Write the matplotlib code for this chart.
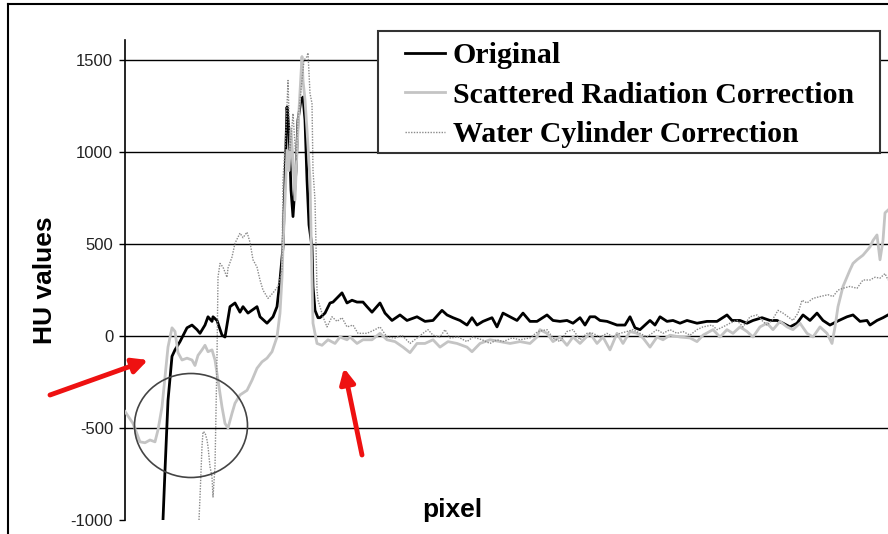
import matplotlib
matplotlib.use('Agg')
import matplotlib.pyplot as plt
from matplotlib.patches import Ellipse, Rectangle
from matplotlib.lines import Line2D

plt.rcParams['axes.unicode_minus'] = False

# profile along the line, x = pixel index, y = HU value
orig_x = [38, 40, 43, 47, 50, 55, 62, 67, 72, 75,
          80, 83, 87, 88, 92, 97, 100, 105, 110, 115,
          118, 123, 132, 135, 142, 148, 152, 155, 158, 160,
          162, 164, 166, 168, 171, 173, 176, 178, 180, 182,
          184, 187, 188, 190, 193, 195, 200, 205, 208, 217,
          222, 227, 232, 238, 242, 247, 255, 260, 267, 275,
          282, 292, 300, 308, 317, 322, 328, 335, 342, 347,
          352, 358, 367, 372, 378, 385, 392, 398, 405, 412,
          422, 428, 435, 442, 448, 455, 460, 465, 470, 475,
          482, 492, 500, 505, 510, 515, 522, 525, 530, 535,
          542, 548, 555, 562, 572, 582, 592, 602, 607, 615,
          622, 628, 637, 645, 652, 658, 665, 672, 678, 685,
          692, 698, 705, 712, 722, 728, 735, 742, 745, 752,
          758, 763]
orig_y = [-1000, -730, -350, -110, -75, -30, 45, 60, 35, 15,
          60, 105, 80, 105, 85, 5, -5, 160, 180, 130,
          160, 125, 160, 105, 70, 105, 160, 305, 485, 850,
          1245, 1120, 795, 650, 900, 1175, 1285, 1300, 1175, 850,
          605, 485, 270, 140, 100, 100, 125, 180, 185, 235,
          180, 195, 185, 185, 160, 130, 180, 125, 85, 115,
          85, 105, 80, 85, 140, 115, 100, 85, 60, 100,
          60, 80, 100, 50, 125, 105, 85, 125, 80, 80,
          115, 85, 80, 85, 70, 100, 60, 105, 105, 85,
          80, 60, 60, 105, 45, 35, 70, 85, 60, 105,
          80, 85, 70, 85, 70, 80, 80, 115, 85, 85,
          70, 85, 100, 85, 85, 70, 50, 70, 115, 85,
          125, 85, 60, 80, 105, 115, 80, 85, 60, 85,
          100, 115]

scat_x = [0, 8, 15, 20, 25, 30, 33, 37, 40, 43,
          47, 50, 53, 57, 62, 67, 70, 73, 77, 80,
          83, 87, 90, 93, 97, 100, 103, 107, 110, 115,
          122, 127, 132, 137, 142, 147, 152, 155, 157, 158,
          160, 162, 164, 166, 168, 170, 172, 174, 177, 178,
          180, 182, 185, 187, 188, 192, 197, 203, 210, 215,
          222, 225, 232, 238, 247, 255, 262, 270, 278, 285,
          292, 300, 308, 315, 323, 332, 342, 347, 355, 365,
          375, 385, 395, 405, 412, 415, 422, 428, 435, 442,
          448, 455, 465, 472, 478, 485, 492, 498, 505, 512,
          518, 525, 532, 538, 545, 555, 565, 572, 578, 588,
          595, 602, 608, 615, 622, 628, 635, 642, 648, 655,
          662, 668, 675, 682, 688, 695, 702, 707, 710, 713,
          718, 725, 728, 732, 738, 745, 748, 752, 755, 758,
          760, 763]
scat_y = [-410, -475, -575, -580, -565, -575, -510, -385, -220, -60,
          45, 25, -90, -130, -120, -130, -160, -105, -75, -50,
          -85, -75, -130, -240, -385, -475, -500, -420, -365, -320,
          -295, -240, -175, -140, -120, -85, -5, 125, 320, 485,
          740, 1010, 900, 1120, 955, 740, 1010, 1230, 1520, 1390,
          1285, 1120, 850, 305, 70, -40, -50, -20, -40, -5,
          -20, -5, -40, -20, -20, 15, -20, -30, -60, -90,
          -40, -40, -20, -60, -30, -40, -60, -85, -40, -20,
          -30, -40, -30, -40, -5, 35, 15, -30, -5, -50,
          -5, -40, 15, -40, -5, -75, 15, -40, 25, 15,
          -10, -60, -5, -20, 5, -5, -10, -30, 5, 35,
          -5, 35, 15, 50, 25, -5, 50, 70, 35, 80,
          50, 35, 70, 15, -5, 50, 15, -40, 50, 160,
          270, 360, 395, 415, 440, 485, 520, 550, 415, 520,
          670, 685]

water_x = [74, 75, 77, 78, 80, 82, 83, 85, 87, 88,
           90, 92, 93, 95, 98, 102, 103, 107, 110, 115,
           118, 122, 125, 128, 132, 135, 138, 143, 148, 153,
           157, 158, 161, 163, 165, 168, 171, 173, 176, 179,
           182, 183, 185, 187, 188, 190, 192, 193, 195, 198,
           202, 207, 212, 217, 222, 228, 233, 242, 250, 255,
           262, 270, 277, 285, 292, 298, 303, 308, 315, 320,
           325, 333, 342, 348, 357, 365, 372, 378, 387, 395,
           405, 413, 422, 428, 435, 442, 448, 455, 462, 468,
           475, 482, 488, 495, 502, 508, 515, 522, 532, 538,
           545, 552, 558, 565, 572, 578, 587, 592, 598, 605,
           612, 618, 625, 632, 637, 642, 647, 653, 658, 663,
           668, 673, 677, 682, 688, 695, 703, 708, 713, 718,
           725, 732, 738, 745, 750, 755, 760, 763]
water_y = [-1000, -875, -600, -520, -525, -565, -600, -710, -765, -875,
           -710, -110, 320, 395, 375, 320, 370, 430, 505, 560,
           535, 565, 510, 415, 375, 305, 250, 205, 235, 270,
           360, 850, 1120, 1390, 1010, 1210, 955, 1175, 1335, 1500,
           1520, 1540, 1320, 1265, 900, 740, 250, 195, 160, 105,
           50, 105, 80, 100, 50, 60, 15, 15, 35, 50,
           -5, -10, 5, -40, -10, 15, 35, 5, -5, 35,
           -10, -5, -30, -5, -20, -40, -20, -30, -10, -20,
           -10, 25, 35, -10, -30, 25, 35, -20, 15, 15,
           -5, 15, -5, 15, 25, 35, 15, -5, 35, 15,
           35, 15, 25, 5, 35, 50, 60, 35, 50, 70,
           85, 50, 105, 115, 85, 60, 85, 140, 125, 105,
           85, 125, 195, 180, 205, 215, 225, 215, 250, 260,
           270, 260, 305, 305, 320, 315, 340, 305]

yticks = [-1000, -500, 0, 500, 1000, 1500]
grid_vals = [-500, 0, 500, 1000, 1500]
labels = ['Original', 'Scattered Radiation Correction', 'Water Cylinder Correction']

W, H = 888, 534
fig = plt.figure(figsize=(W / 100, H / 100), dpi=100)
ax = fig.add_axes([125 / W, 1 - 520 / H, 1 - 125 / W, 480 / H])

for v in grid_vals:
    ax.axhline(v, color='black', lw=1, zorder=1)

ax.plot(orig_x, orig_y, color='black', lw=2, label=labels[0], zorder=3)
ax.plot(scat_x, scat_y, color='#c4c4c4', lw=2, label=labels[1], zorder=3)
ax.plot(water_x, water_y, color='#8a8a8a', lw=1, ls=(0, (1, 1)), label=labels[2], zorder=4)

ax.set_xlim(0, 763)
ax.set_ylim(-1000, 1610)
ax.set_yticks(yticks)
ax.set_xticks([])
for s in ['top', 'right', 'bottom']:
    ax.spines[s].set_visible(False)
ax.spines['left'].set_linewidth(1.2)
ax.tick_params(axis='y', length=4, width=1, pad=4.5, labelsize=12, labelcolor='#222222')
for t in ax.get_yticklabels():
    t.set_fontfamily('Liberation Sans')

ax.set_ylabel('HU values', fontsize=19, fontweight='bold', family='Liberation Sans')
ax.yaxis.set_label_coords(-68 / 763, 0.5)
ax.text((452 - 125) / 763, 10 / 480, 'pixel', fontsize=19, fontweight='bold',
        family='Liberation Sans', ha='center', va='center', transform=ax.transAxes)

# legend box drawn by hand, the entries inside it
ax.add_patch(Rectangle((378 / W, 1 - 153 / H), 502 / W, 122 / H, transform=fig.transFigure,
                       facecolor='white', edgecolor='#333333', lw=1.5, zorder=4.5, clip_on=False))
leg = ax.legend(loc='upper left', bbox_to_anchor=(405 / W, 1 - 42 / H),
                bbox_transform=fig.transFigure, borderaxespad=0, borderpad=0,
                prop={'family': 'Liberation Serif', 'weight': 'bold', 'size': 21.5},
                handlelength=1.33, handletextpad=0.27, labelspacing=0.42, frameon=False)
leg.set_zorder(5)

# circle and red arrows
fig.add_artist(Ellipse((191 / W, 1 - 425.5 / H), 113 / W, 104 / H, transform=fig.transFigure,
                       fill=False, edgecolor='#444444', lw=1.2))
for tail, head in [((50, H - 395), (148, H - 360)), ((362, H - 455), (344, H - 368))]:
    ax.annotate('', xy=head, xytext=tail, xycoords='figure pixels', textcoords='figure pixels',
                arrowprops=dict(arrowstyle='-|>,head_length=0.9,head_width=0.45',
                                color='#ee1111', lw=3.5, shrinkA=0, shrinkB=0))

# outer frame
fig.add_artist(Line2D([8 / W, 1], [1 - 4 / H, 1 - 4 / H], color='black', lw=1.5, transform=fig.transFigure))
fig.add_artist(Line2D([8 / W, 8 / W], [0, 1 - 4 / H], color='black', lw=1.5, transform=fig.transFigure))

fig.savefig('out.png', dpi=100)
